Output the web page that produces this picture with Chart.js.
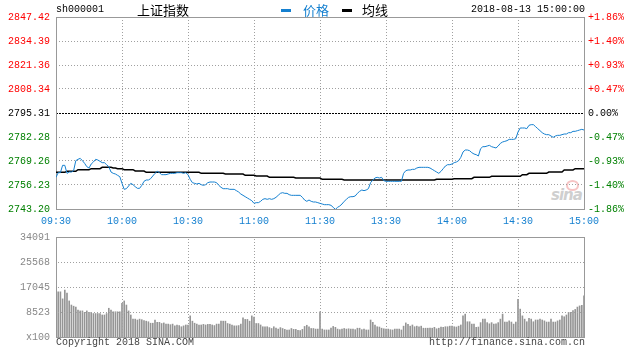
<!DOCTYPE html>
<html>
<head>
<meta charset="utf-8">
<script src="https://cdn.jsdelivr.net/npm/chart.js@4/dist/chart.umd.min.js"></script>
<style>
  body { margin: 0; background: #fff; }
  #wrap { position: relative; width: 632px; height: 357px; overflow: hidden; }
  canvas { position: absolute; left: 0; }
  .t { position: absolute; white-space: nowrap; font-family: "Liberation Mono", monospace; font-size: 10px; line-height: 12px; }
  .cn { position: absolute; white-space: nowrap; font-family: "Noto Sans CJK SC", sans-serif; font-size: 13px; line-height: 14px; }
  .bar { position: absolute; width: 10px; height: 3px; }
  #sina { position: absolute; left: 551px; top: 186px; font: italic bold 15px "DejaVu Sans", sans-serif; color: #cfcfcf; letter-spacing: -1px; }
  #eye { position: absolute; left: 566px; top: 180px; width: 9px; height: 7px; border: 2px solid #f6c4c4; border-radius: 50%; }
</style>
</head>
<body>
<div id="wrap">
  <div id="eye"></div>
  <div id="sina">sina</div>
  <canvas id="priceChart" width="632" height="232" style="top:0"></canvas>
  <canvas id="volChart" width="632" height="110" style="top:230px"></canvas>

  <div class="t" style="left:56px;top:4px;color:#000">sh000001</div>
  <div class="cn" style="left:137px;top:3px;color:#000">上证指数</div>
  <div class="bar" style="left:281px;top:9px;background:#1580d0"></div>
  <div class="cn" style="left:303px;top:3px;color:#1580d0">价格</div>
  <div class="bar" style="left:342px;top:9px;background:#000"></div>
  <div class="cn" style="left:362px;top:3px;color:#000">均线</div>
  <div class="t" style="right:47px;top:4px;color:#000">2018-08-13 15:00:00</div>

  <div class="t" style="left:56px;top:337px;color:#444">Copyright 2018 SINA.COM</div>
  <div class="t" style="right:47px;top:337px;color:#444">http://finance.sina.com.cn</div>
</div>

<script>
// minute data 09:30-11:30, 13:01-15:00 (241 points)
const timeLabels = ['09:30', '10:00', '10:30', '11:00', '11:30', '13:30', '14:00', '14:30', '15:00'];

const priceTicks = [2743.20, 2756.23, 2769.26, 2782.28, 2795.31, 2808.34, 2821.36, 2834.39, 2847.42];
const pctLabels = ['-1.86%', '-1.40%', '-0.93%', '-0.47%', '0.00%', '+0.47%', '+0.93%', '+1.40%', '+1.86%'];
const prevClose = 2795.31;

const volTicks = [0, 8523, 17045, 25568, 34091];
const volLabels = ['x100', '8523', '17045', '25568', '34091'];

const price = [
  2760.39, 2762.92, 2762.92, 2766.90, 2766.90, 2762.56, 2763.28, 2763.28, 2764.01, 2769.44,
  2770.16, 2770.70, 2769.44, 2767.99, 2766.18, 2765.45, 2767.62, 2768.71, 2770.16, 2769.80,
  2769.07, 2768.35, 2768.35, 2767.26, 2766.18, 2763.28, 2762.56, 2762.20, 2761.47, 2760.75,
  2757.13, 2753.87, 2754.23, 2755.68, 2757.13, 2756.41, 2755.32, 2754.42, 2754.42, 2756.04,
  2758.22, 2758.94, 2758.94, 2759.66, 2761.11, 2762.56, 2763.65, 2762.92, 2761.84, 2761.84,
  2761.84, 2762.20, 2762.56, 2762.56, 2762.56, 2762.92, 2762.92, 2762.92, 2762.56, 2762.92,
  2761.84, 2759.30, 2757.49, 2757.13, 2756.77, 2757.13, 2756.41, 2756.04, 2756.41, 2757.49,
  2757.85, 2757.85, 2757.85, 2757.49, 2756.04, 2754.96, 2754.23, 2754.23, 2754.23, 2753.87,
  2753.87, 2753.87, 2753.15, 2752.43, 2751.34, 2750.62, 2749.89, 2749.17, 2748.45, 2747.72,
  2746.27, 2746.64, 2746.64, 2747.36, 2748.45, 2748.81, 2748.45, 2748.81, 2748.45, 2748.81,
  2749.53, 2750.62, 2751.70, 2752.06, 2751.70, 2751.70, 2750.98, 2750.62, 2750.62, 2750.62,
  2750.62, 2750.62, 2749.53, 2748.08, 2747.36, 2748.08, 2747.36, 2747.00, 2747.00, 2746.64,
  2746.27, 2745.91, 2745.55, 2745.55, 2745.55, 2745.19, 2744.10, 2743.02, 2744.10, 2744.83,
  2745.91, 2747.36, 2748.45, 2749.53, 2749.89, 2749.89, 2750.26, 2751.70, 2752.79, 2753.51,
  2753.15, 2753.51, 2754.23, 2757.49, 2758.94, 2760.03, 2760.39, 2760.03, 2760.39, 2758.58,
  2758.22, 2758.22, 2758.22, 2758.22, 2758.22, 2758.22, 2758.22, 2758.22, 2762.56, 2764.00,
  2764.37, 2764.37, 2764.73, 2764.73, 2765.45, 2765.82, 2765.82, 2765.82, 2765.82, 2765.82,
  2765.45, 2764.73, 2764.00, 2763.28, 2762.56, 2763.64, 2765.09, 2766.54, 2767.26, 2767.26,
  2767.63, 2768.35, 2768.71, 2769.43, 2771.24, 2774.14, 2775.22, 2775.22, 2774.86, 2773.78,
  2773.05, 2772.69, 2771.97, 2775.95, 2777.03, 2777.03, 2777.40, 2777.76, 2777.03, 2776.67,
  2776.31, 2777.40, 2778.84, 2779.57, 2779.93, 2780.29, 2781.01, 2781.01, 2781.01, 2781.38,
  2784.99, 2787.17, 2787.17, 2787.17, 2786.80, 2788.62, 2788.98, 2788.98, 2787.89, 2786.80,
  2785.72, 2784.63, 2783.91, 2783.55, 2783.55, 2782.82, 2782.10, 2782.82, 2783.19, 2783.19,
  2783.55, 2783.91, 2783.91, 2784.63, 2784.63, 2785.36, 2785.36, 2785.72, 2786.08, 2786.44, 2786.08
];

const avgLine = [
  2763.10, 2763.10, 2763.10, 2763.10, 2763.10, 2763.65, 2763.65, 2763.65, 2763.65, 2763.65,
  2764.55, 2764.55, 2764.55, 2764.55, 2764.55, 2764.55, 2765.09, 2765.09, 2765.09, 2765.09,
  2765.09, 2765.82, 2765.82, 2765.82, 2765.82, 2765.82, 2765.45, 2765.45, 2765.09, 2765.09,
  2765.09, 2764.55, 2764.55, 2764.55, 2764.55, 2764.55, 2763.83, 2763.83, 2763.83, 2763.83,
  2763.83, 2763.10, 2763.10, 2763.10, 2763.10, 2763.10, 2763.10, 2763.10, 2763.10, 2763.10,
  2763.10, 2763.10, 2763.10, 2763.10, 2763.10, 2763.10, 2763.10, 2763.10, 2763.10, 2763.10,
  2763.10, 2763.10, 2763.10, 2763.10, 2763.10, 2763.10, 2762.56, 2762.56, 2762.56, 2762.56,
  2762.56, 2762.56, 2762.56, 2762.56, 2762.56, 2762.56, 2762.56, 2762.20, 2762.20, 2762.20,
  2762.20, 2762.20, 2762.20, 2762.20, 2762.20, 2762.20, 2761.47, 2761.47, 2761.47, 2761.47,
  2761.47, 2761.11, 2761.11, 2761.11, 2761.11, 2761.11, 2761.11, 2760.39, 2760.39, 2760.39,
  2760.39, 2760.39, 2760.39, 2760.39, 2760.39, 2760.39, 2760.39, 2760.39, 2760.39, 2760.03,
  2760.03, 2760.03, 2760.03, 2760.03, 2760.03, 2760.03, 2760.03, 2760.03, 2760.03, 2760.03,
  2760.03, 2759.30, 2759.30, 2759.30, 2759.30, 2759.30, 2759.30, 2759.30, 2759.30, 2759.30,
  2759.30, 2758.94, 2758.94, 2758.94, 2758.94, 2758.94, 2758.94, 2758.94, 2758.94, 2758.94,
  2758.94, 2758.94, 2758.94, 2758.94, 2758.94, 2758.94, 2758.94, 2758.94, 2758.94, 2758.94,
  2758.94, 2758.94, 2758.94, 2758.94, 2758.94, 2758.94, 2758.94, 2758.94, 2758.94, 2758.94,
  2758.94, 2758.94, 2758.94, 2758.94, 2758.94, 2758.94, 2758.94, 2758.94, 2758.94, 2758.94,
  2758.94, 2758.94, 2758.94, 2759.30, 2759.30, 2759.30, 2759.30, 2759.30, 2759.30, 2759.30,
  2759.30, 2759.66, 2759.66, 2759.66, 2759.66, 2759.66, 2759.66, 2759.66, 2759.66, 2759.66,
  2760.39, 2760.39, 2760.39, 2760.39, 2760.39, 2760.39, 2760.39, 2760.39, 2760.93, 2760.93,
  2760.93, 2760.93, 2760.93, 2760.93, 2760.93, 2760.93, 2760.93, 2760.93, 2760.93, 2760.93,
  2760.93, 2760.93, 2761.84, 2761.84, 2761.84, 2762.56, 2762.56, 2762.56, 2762.56, 2762.56,
  2762.56, 2762.56, 2762.56, 2762.56, 2763.28, 2763.28, 2763.28, 2763.28, 2763.28, 2763.28,
  2763.28, 2764.37, 2764.37, 2764.37, 2764.37, 2764.37, 2765.09, 2765.09, 2765.09, 2765.09, 2765.09
];

// volume in lots of 100
const volume = [
  17200, 15400, 15400, 13000, 16000, 15000, 12300, 10900, 10500, 10200,
  9200, 8900, 8900, 8400, 8900, 8400, 8400, 8000, 8000, 8000,
  8000, 7500, 7500, 8000, 9800, 9200, 8600, 8600, 8600, 8600,
  11500, 12300, 10900, 8900, 7500, 6100, 6100, 5800, 6100, 5900,
  5600, 5400, 5200, 4700, 4700, 5800, 5000, 5000, 4600, 4800,
  4400, 4400, 4200, 4400, 3800, 4100, 3900, 3500, 3800, 4100,
  4100, 7200, 5400, 4700, 4400, 4100, 4100, 4300, 4100, 4300,
  4300, 4100, 3900, 4400, 4400, 5400, 5400, 5400, 4600, 4400,
  4100, 3800, 3800, 3900, 4400, 6500, 6000, 6000, 5400, 7200,
  6800, 4600, 4600, 4100, 3500, 3500, 3500, 3200, 2900, 3500,
  3000, 2700, 3200, 2900, 2600, 2400, 2400, 2900, 2600, 2600,
  2300, 2200, 2600, 3600, 4000, 3500, 2900, 2900, 2700, 2700,
  8600, 2700, 2400, 2400, 2400, 3000, 3600, 3300, 2700, 2500,
  2700, 2900, 2700, 2800, 2700, 2700, 2500, 3000, 3000, 2500,
  2700, 2400, 2400, 5800, 5000, 4100, 3500, 3400, 3000, 2800,
  2700, 2700, 2500, 2400, 2700, 2700, 2700, 2400, 3700, 4800,
  4300, 3700, 4100, 3500, 3700, 3500, 3700, 3000, 3000, 3000,
  3000, 3000, 3300, 2800, 3000, 3400, 3300, 3500, 3500, 3700,
  3700, 3500, 3400, 3700, 4100, 7200, 7800, 5200, 5200, 4400,
  4400, 3300, 3400, 4900, 6100, 6100, 4900, 4500, 4900, 4400,
  4500, 4900, 6100, 7800, 5100, 5100, 5500, 5100, 4400, 5100,
  12800, 9500, 7200, 6100, 5200, 6400, 6100, 5200, 5800, 5800,
  6100, 5800, 5500, 5100, 5100, 6100, 5100, 5100, 5500, 5800,
  7200, 6900, 7500, 8400, 8400, 9000, 9400, 10200, 10600, 10800, 14000
];

const BLUE = '#1580d0';
const GRID = '#a0a0a0';
const FRAME = '#999999';
const RED = '#ff0000';
const GREEN = '#008000';

Chart.defaults.font.family = '"Liberation Mono", monospace';
Chart.defaults.font.size = 10;

function tickColor(ctx) {
  const v = ctx.tick.value;
  if (v > prevClose + 0.001) return RED;
  if (v < prevClose - 0.001) return GREEN;
  return '#000';
}

function isBase(ctx) {
  return ctx.tick && Math.abs(ctx.tick.value - prevClose) < 0.001;
}

// fixed axis sizes so the plot frames sit where the original ones are
function fixSize(w, h) {
  return function(s) {
    if (w !== null) s.width = w;
    if (h !== null) s.height = h;
    s.paddingLeft = 0; s.paddingRight = 0; s.paddingTop = 0; s.paddingBottom = 0;
  };
}

const framePlugin = {
  id: 'frame',
  beforeDatasetsDraw(chart) {
    const a = chart.chartArea;
    const c = chart.ctx;
    c.save();
    c.strokeStyle = FRAME;
    c.lineWidth = 1;
    c.setLineDash([]);
    c.strokeRect(a.left + 0.5, a.top + 0.5, a.right - a.left, a.bottom - a.top);
    c.restore();
  }
};

// dotted grid for the volume panel, dots placed from the chart's own scales
const volGridPlugin = {
  id: 'volGrid',
  afterDatasetsDraw(chart) {
    const a = chart.chartArea;
    const c = chart.ctx;
    const xs = chart.scales.x, ys = chart.scales.y;
    c.save();
    c.fillStyle = GRID;
    xs.ticks.forEach(t => {
      const px = Math.round(xs.getPixelForValue(t.value));
      if (px <= a.left || px >= a.right) return;
      for (let y = Math.round(a.top) + 2; y < a.bottom; y += 3) c.fillRect(px, y, 1, 1);
    });
    ys.ticks.forEach(t => {
      const py = Math.round(ys.getPixelForValue(t.value));
      if (py <= a.top || py >= a.bottom) return;
      for (let x = Math.round(a.left) + 2; x < a.right; x += 3) c.fillRect(x, py, 1, 1);
    });
    c.restore();
  }
};

const xTicksFn = function(scale) {
  scale.ticks = timeLabels.map((t, i) => ({ value: i * 30 }));
};

new Chart(document.getElementById('priceChart'), {
  type: 'line',
  data: {
    datasets: [
      {
        label: '价格',
        data: price.map((v, i) => ({ x: i, y: v })),
        borderColor: BLUE,
        borderWidth: 1,
        pointRadius: 0,
        tension: 0
      },
      {
        label: '均线',
        data: avgLine.map((v, i) => ({ x: i, y: v })),
        borderColor: '#000',
        borderWidth: 1.5,
        pointRadius: 0,
        tension: 0
      }
    ]
  },
  options: {
    responsive: false,
    animation: false,
    layout: { padding: { top: 17, left: 0, right: 0, bottom: 0 } },
    plugins: { legend: { display: false }, tooltip: { enabled: false } },
    scales: {
      x: {
        type: 'linear',
        min: 0,
        max: 240,
        afterBuildTicks: xTicksFn,
        afterFit: fixSize(null, 23),
        ticks: {
          autoSkip: false,
          maxRotation: 0,
          color: BLUE,
          padding: 6,
          callback: v => timeLabels[Math.round(v / 30)]
        },
        grid: { color: GRID, drawTicks: false },
        border: { display: false, dash: [1, 2] }
      },
      y: {
        position: 'left',
        min: priceTicks[0],
        max: priceTicks[priceTicks.length - 1],
        afterBuildTicks: s => { s.ticks = priceTicks.map(v => ({ value: v })); },
        afterFit: fixSize(56, null),
        ticks: {
          padding: 6,
          color: tickColor,
          callback: v => v.toFixed(2)
        },
        grid: {
          drawTicks: false,
          color: ctx => isBase(ctx) ? '#000' : GRID
        },
        border: {
          display: false,
          dash: ctx => isBase(ctx) ? [2, 1] : [1, 2]
        }
      },
      y2: {
        position: 'right',
        min: priceTicks[0],
        max: priceTicks[priceTicks.length - 1],
        afterBuildTicks: s => { s.ticks = priceTicks.map(v => ({ value: v })); },
        afterFit: fixSize(48, null),
        ticks: {
          padding: 4,
          color: tickColor,
          callback: (v, i) => pctLabels[i]
        },
        grid: { display: false, drawTicks: false },
        border: { display: false }
      }
    }
  },
  plugins: [framePlugin]
});

new Chart(document.getElementById('volChart'), {
  type: 'bar',
  data: {
    datasets: [{
      label: '成交量',
      data: volume.map((v, i) => ({ x: i, y: v })),
      backgroundColor: '#959595',
      barThickness: 1
    }]
  },
  options: {
    responsive: false,
    animation: false,
    layout: { padding: { top: 7, right: 48, left: 0, bottom: 3 } },
    plugins: { legend: { display: false }, tooltip: { enabled: false } },
    scales: {
      x: {
        type: 'linear',
        min: 0,
        max: 240,
        offset: false,
        afterBuildTicks: xTicksFn,
        afterFit: fixSize(null, 0),
        ticks: { display: false },
        grid: { display: false, drawTicks: false, offset: false },
        border: { display: false }
      },
      y: {
        min: 0,
        max: volTicks[volTicks.length - 1],
        afterBuildTicks: s => { s.ticks = volTicks.map(v => ({ value: v })); },
        afterFit: fixSize(56, null),
        ticks: {
          padding: 6,
          color: '#888888',
          callback: (v, i) => volLabels[i]
        },
        grid: { display: false, drawTicks: false },
        border: { display: false }
      }
    }
  },
  plugins: [framePlugin, volGridPlugin]
});
</script>
</body>
</html>
